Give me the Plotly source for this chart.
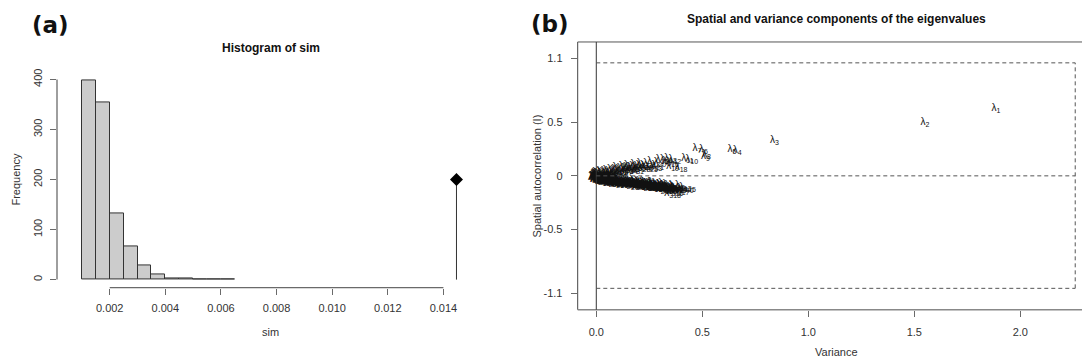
import plotly.graph_objects as go

W, H = 1082, 363

# ---------------- Panel (a): histogram of simulated values ----------------
bin_edges = [0.0010, 0.0015, 0.0020, 0.0025, 0.0030, 0.0035, 0.0040,
             0.0045, 0.0050, 0.0055, 0.0060, 0.0065]
counts = [398, 354, 133, 67, 28, 11, 2, 2, 0, 1, 1]
obs_value = 0.01447
obs_height = 200
hist_xticks = [0.002, 0.004, 0.006, 0.008, 0.010, 0.012, 0.014]
hist_yticks = [0, 100, 200, 300, 400]

# ---------------- Panel (b): eigenvalue components ----------------
eig_ids = [1, 2, 3, 4, 5, 6, 7, 8, 9, 10,
           11, 12, 13, 14, 15, 16, 17, 18, 19, 20,
           21, 22, 23, 24, 25, 26, 27, 28, 29, 30,
           31, 32, 33, 34, 35, 36, 37, 38, 39, 40,
           41, 42, 43, 44, 45, 46, 47, 48, 49, 50,
           51, 52, 53, 54, 55,
           56, 57, 58, 59, 60, 61, 62, 63, 64, 65,
           66, 67, 68, 69, 70, 71, 72, 73, 74, 75,
           76, 77, 78, 79,
           140, 141, 142, 143, 144, 145, 146, 147, 148, 149,
           150, 151, 152, 153, 154, 155, 156, 157, 158, 159,
           160, 161, 162, 163, 164, 165, 166, 167, 168, 169,
           170, 171, 172, 173, 174, 175, 176, 177, 178, 179,
           180, 181, 182, 183, 184, 185, 186, 187, 188, 189,
           190, 191, 192, 193, 194, 195, 196, 197, 198, 199,
           200, 201, 202, 203, 204, 205, 206, 207, 208, 209,
           210, 211, 212, 213, 214, 215, 216, 217, 218, 219,
           220, 221, 222, 223, 224, 225, 226, 227, 228, 229,
           230, 231, 232, 233, 234, 235, 236, 237, 238, 239,
           240, 241, 242, 243, 244, 245, 246, 247, 248, 249,
           250, 251, 252, 253, 254, 255, 256, 257, 258, 259,
           260, 261, 262, 263, 264, 265, 266, 267, 268, 269,
           270, 271, 272, 273, 274, 275, 276, 277, 278, 279,
           280, 281, 282, 283, 284, 285, 286, 287, 288, 289,
           290, 291, 292, 293, 294, 295, 296, 297, 298, 299,
           300, 301, 302, 303, 304, 305, 306, 307, 308, 309,
           310, 311, 312, 313, 314, 315, 316, 317, 318]
eig_variance = [1.885, 1.55, 0.84, 0.665, 0.64, 0.505, 0.475, 0.52, 0.515, 0.45,
                0.43, 0.37, 0.35, 0.33, 0.31, 0.36, 0.34, 0.40, 0.36, 0.30,
                0.29, 0.27, 0.28, 0.25, 0.26, 0.235, 0.22, 0.225, 0.205, 0.19,
                0.195, 0.175, 0.16, 0.165, 0.15, 0.135, 0.14, 0.12, 0.105, 0.11,
                0.095, 0.08, 0.085, 0.07, 0.06, 0.055, 0.045, 0.035, 0.03, 0.02,
                0.015, 0.01, 0.006, 0.004, 0.002,
                0.0, 0.005, 0.01, 0.015, 0.02, 0.025, 0.03, 0.035, 0.04, 0.05,
                0.06, 0.065, 0.075, 0.09, 0.10, 0.115, 0.125, 0.145, 0.155, 0.17,
                0.185, 0.20, 0.215, 0.24,
                0.01, 0.02, 0.03, 0.04, 0.05, 0.06, 0.07, 0.08, 0.09, 0.10,
                0.11, 0.12, 0.13, 0.14, 0.15, 0.16, 0.17, 0.18, 0.19, 0.20,
                0.21, 0.22, 0.23, 0.24, 0.25, 0.26, 0.27, 0.28, 0.29, 0.30,
                0.31, 0.32, 0.33, 0.34, 0.35, 0.005, 0.0, 0.012, 0.022, 0.045,
                0.02, 0.03, 0.04, 0.05, 0.06, 0.07, 0.08, 0.09, 0.10, 0.11,
                0.12, 0.13, 0.14, 0.15, 0.16, 0.17, 0.18, 0.19, 0.20, 0.21,
                0.22, 0.23, 0.24, 0.25, 0.26, 0.27, 0.28, 0.29, 0.30, 0.31,
                0.32, 0.33, 0.34, 0.35, 0.36, 0.37, 0.38, 0.39, 0.015, 0.025,
                0.035, 0.045, 0.065, 0.075, 0.085, 0.095, 0.105, 0.115, 0.125, 0.145,
                0.155, 0.165, 0.185, 0.195, 0.205, 0.215, 0.235, 0.245, 0.265, 0.285,
                0.42, 0.32, 0.345, 0.36, 0.35, 0.33, 0.27, 0.25, 0.225, 0.20,
                0.175, 0.125, 0.105, 0.01, 0.02, 0.035, 0.05, 0.065, 0.075, 0.09,
                0.11, 0.13, 0.155, 0.16, 0.18, 0.21, 0.30, 0.24, 0.26, 0.28,
                0.003, 0.005, 0.008, 0.012, 0.018, 0.025, 0.03, 0.04, 0.045, 0.055,
                0.06, 0.07, 0.08, 0.085, 0.095, 0.10, 0.115, 0.12, 0.135, 0.14,
                0.15, 0.165, 0.17, 0.185, 0.19, 0.20, 0.215, 0.22, 0.23, 0.24,
                0.25, 0.26, 0.27, 0.28, 0.29, 0.30, 0.32, 0.31, 0.34, 0.33,
                0.38, 0.35, 0.37, 0.41, 0.39, 0.43, 0.37, 0.40, 0.36]
eig_moran = [0.635, 0.50, 0.33, 0.235, 0.25, 0.245, 0.26, 0.20, 0.185, 0.155,
             0.165, 0.15, 0.165, 0.155, 0.15, 0.125, 0.135, 0.08, 0.085, 0.125,
             0.10, 0.13, 0.085, 0.115, 0.08, 0.10, 0.12, 0.075, 0.09, 0.105,
             0.065, 0.08, 0.095, 0.06, 0.07, 0.085, 0.05, 0.06, 0.075, 0.04,
             0.05, 0.06, 0.03, 0.04, 0.05, 0.025, 0.035, 0.02, 0.03, 0.015,
             0.022, 0.008, 0.015, 0.004, 0.01,
             0.0, 0.02, 0.03, 0.005, 0.025, 0.01, 0.04, 0.005, 0.02, 0.04,
             0.015, 0.03, 0.02, 0.04, 0.055, 0.05, 0.07, 0.065, 0.08, 0.075,
             0.09, 0.08, 0.095, 0.085,
             -0.02, -0.025, -0.03, -0.025, -0.035, -0.03, -0.04, -0.035, -0.045, -0.04,
             -0.05, -0.045, -0.055, -0.05, -0.06, -0.055, -0.065, -0.06, -0.07, -0.065,
             -0.075, -0.07, -0.08, -0.075, -0.085, -0.08, -0.09, -0.085, -0.095, -0.09,
             -0.10, -0.095, -0.105, -0.10, -0.115, -0.01, -0.02, -0.035, -0.04, -0.05,
             -0.01, -0.015, -0.02, -0.025, -0.02, -0.03, -0.025, -0.035, -0.03, -0.04,
             -0.035, -0.045, -0.04, -0.05, -0.045, -0.06, -0.05, -0.065, -0.06, -0.07,
             -0.06, -0.075, -0.065, -0.08, -0.07, -0.085, -0.075, -0.09, -0.08, -0.095,
             -0.085, -0.10, -0.095, -0.11, -0.095, -0.105, -0.10, -0.12, -0.02, -0.005,
             -0.03, -0.015, -0.04, -0.015, -0.045, -0.02, -0.055, -0.025, -0.05, -0.03,
             -0.065, -0.035, -0.07, -0.045, -0.08, -0.05, -0.09, -0.055, -0.10, -0.065,
             -0.115, -0.125, -0.125, -0.105, -0.08, -0.075, -0.07, -0.06, -0.055, -0.05,
             -0.045, -0.04, -0.035, -0.03, -0.035, -0.045, -0.05, -0.05, -0.06, -0.065,
             -0.07, -0.075, -0.045, -0.08, -0.085, -0.09, -0.075, -0.095, -0.10, -0.065,
             -0.005, -0.02, -0.01, -0.025, -0.015, -0.03, -0.02, -0.035, -0.025, -0.04,
             -0.03, -0.045, -0.035, -0.055, -0.04, -0.05, -0.06, -0.045, -0.065, -0.05,
             -0.06, -0.07, -0.055, -0.075, -0.06, -0.07, -0.08, -0.065, -0.085, -0.07,
             -0.09, -0.075, -0.095, -0.08, -0.11, -0.09, -0.085, -0.105, -0.09, -0.115,
             -0.09, -0.10, -0.12, -0.095, -0.11, -0.105, -0.145, -0.135, -0.165]
I_max, I_min, var_max = 1.059, -1.054, 2.259
eig_xticks = [0.0, 0.5, 1.0, 1.5, 2.0]
eig_yticks = [-1.1, -0.5, 0, 0.5, 1.1]

TXT = "#333333"
AX = "#6a6a6a"
FONT = "Liberation Sans, Arial, sans-serif"

fig = go.Figure()

# histogram bars
centers = [(bin_edges[i] + bin_edges[i + 1]) / 2 for i in range(len(counts))]
widths = [bin_edges[i + 1] - bin_edges[i] for i in range(len(counts))]
fig.add_trace(go.Bar(x=centers, y=counts, width=widths, xaxis="x", yaxis="y",
                     marker=dict(color="#cccccc", line=dict(color="#333333", width=1)),
                     showlegend=False, hoverinfo="skip"))
# observed value
fig.add_trace(go.Scatter(x=[obs_value, obs_value], y=[0, obs_height], mode="lines",
                         line=dict(color="#333333", width=1), xaxis="x", yaxis="y",
                         showlegend=False, hoverinfo="skip"))
fig.add_trace(go.Scatter(x=[obs_value], y=[obs_height], mode="markers",
                         marker=dict(symbol="diamond", size=10, color="#000000"),
                         xaxis="x", yaxis="y", showlegend=False, hoverinfo="skip"))

# eigenvalue labels
fig.add_trace(go.Scatter(x=eig_variance, y=eig_moran, mode="text",
                         text=[f"λ<sub>{i}</sub>" for i in eig_ids],
                         textposition="middle center",
                         textfont=dict(family=FONT, size=10, color="#111111"),
                         xaxis="x2", yaxis="y2", showlegend=False, hoverinfo="skip"))

# domains in pixels
a_l, a_r, a_t, a_b = 57, 484, 69, 287
b_l, b_r, b_t, b_b = 577.7, 1082, 39.3, 309.3

def px_x(p):
    return p / W

def px_y(p):
    return 1 - p / H

tickfont = dict(family=FONT, size=11, color=TXT)

fig.update_layout(
    width=W, height=H,
    margin=dict(l=0, r=0, t=0, b=0),
    paper_bgcolor="white", plot_bgcolor="white",
    bargap=0,
    xaxis=dict(domain=[px_x(a_l), px_x(a_r)], range=[0.000104, 0.01546],
               tickvals=hist_xticks, ticktext=[f"{v:.3f}" for v in hist_xticks],
               ticks="outside", ticklen=6, tickcolor=AX, showline=False,
               showgrid=False, zeroline=False, tickfont=tickfont, anchor="y",
               ticklabelstandoff=4),
    yaxis=dict(domain=[px_y(a_b), px_y(a_t)], range=[-16, 416],
               tickvals=hist_yticks, ticks="outside", ticklen=6, tickcolor=AX,
               showline=False, showgrid=False, zeroline=False, tickangle=-90,
               tickfont=tickfont, anchor="x", ticklabelstandoff=4),
    xaxis2=dict(domain=[px_x(b_l), 1.0], range=[-0.0877, 2.291],
                tickvals=eig_xticks, ticktext=[f"{v:.1f}" for v in eig_xticks],
                ticks="outside", ticklen=6, tickcolor=AX, showline=False,
                showgrid=False, zeroline=False, tickfont=tickfont, anchor="y2",
                ticklabelstandoff=6),
    yaxis2=dict(domain=[px_y(b_b), px_y(b_t)], range=[-1.2546, 1.2546],
                tickvals=eig_yticks, ticktext=[str(v) for v in eig_yticks],
                ticks="outside", ticklen=6, tickcolor=AX, showline=False,
                showgrid=False, zeroline=False, tickfont=tickfont, anchor="x2",
                ticklabelstandoff=6),
)

shapes = []
# R-style axis lines for panel (a)
shapes.append(dict(type="line", xref="x", yref="y domain", x0=hist_xticks[0], x1=hist_xticks[-1],
                   y0=0, y1=0, line=dict(color=AX, width=1.3)))
shapes.append(dict(type="line", xref="x domain", yref="y", x0=0, x1=0,
                   y0=hist_yticks[0], y1=hist_yticks[-1], line=dict(color=AX, width=1.3)))
# box for panel (b)
shapes.append(dict(type="line", xref="x2 domain", yref="y2 domain", x0=0, x1=0, y0=0, y1=1,
                   line=dict(color="#444444", width=1)))
shapes.append(dict(type="line", xref="x2 domain", yref="y2 domain", x0=0, x1=1, y0=1, y1=1,
                   line=dict(color="#555555", width=1)))
shapes.append(dict(type="line", xref="x2 domain", yref="y2 domain", x0=0, x1=1, y0=0, y1=0,
                   line=dict(color="#888888", width=1.3)))
# vertical line at zero variance
shapes.append(dict(type="line", xref="x2", yref="y2 domain", x0=0, x1=0, y0=0, y1=1,
                   line=dict(color="#333333", width=1)))
# dashed bounds
dash = dict(color="#555555", width=1, dash="4px,3px")
shapes.append(dict(type="line", xref="x2", yref="y2", x0=0, x1=var_max, y0=I_max, y1=I_max, line=dash))
shapes.append(dict(type="line", xref="x2", yref="y2", x0=0, x1=var_max, y0=I_min, y1=I_min, line=dash))
shapes.append(dict(type="line", xref="x2", yref="y2", x0=var_max, x1=var_max, y0=I_min, y1=I_max, line=dash))
shapes.append(dict(type="line", xref="x2", yref="y2", x0=0, x1=var_max, y0=0, y1=0, line=dash))
fig.update_layout(shapes=shapes)

def ann(text, px, py, size=11, bold=False, angle=0, family=FONT, color=TXT):
    return dict(text=f"<b>{text}</b>" if bold else text, x=px_x(px), y=px_y(py),
                xref="paper", yref="paper", xanchor="center", yanchor="middle",
                showarrow=False, textangle=angle,
                font=dict(family=family, size=size, color=color))

fig.update_layout(annotations=[
    ann("(a)", 50, 22, size=23, bold=True, family="DejaVu Sans, sans-serif", color="#111111"),
    ann("(b)", 550, 21, size=23, bold=True, family="DejaVu Sans, sans-serif", color="#111111"),
    ann("Histogram of sim", 270.5, 45, size=12, bold=True, color="#111111"),
    ann("Frequency", 16, 178, angle=-90),
    ann("sim", 270, 332),
    ann("Spatial and variance components of the eigenvalues", 836, 16, size=12, bold=True, color="#111111"),
    ann("Spatial autocorrelation (I)", 537, 175, angle=-90),
    ann("Variance", 836, 352),
])

fig.write_html("out.html", config={"displayModeBar": False},
               post_script="document.body.style.margin='0';document.body.style.overflow='hidden';")
